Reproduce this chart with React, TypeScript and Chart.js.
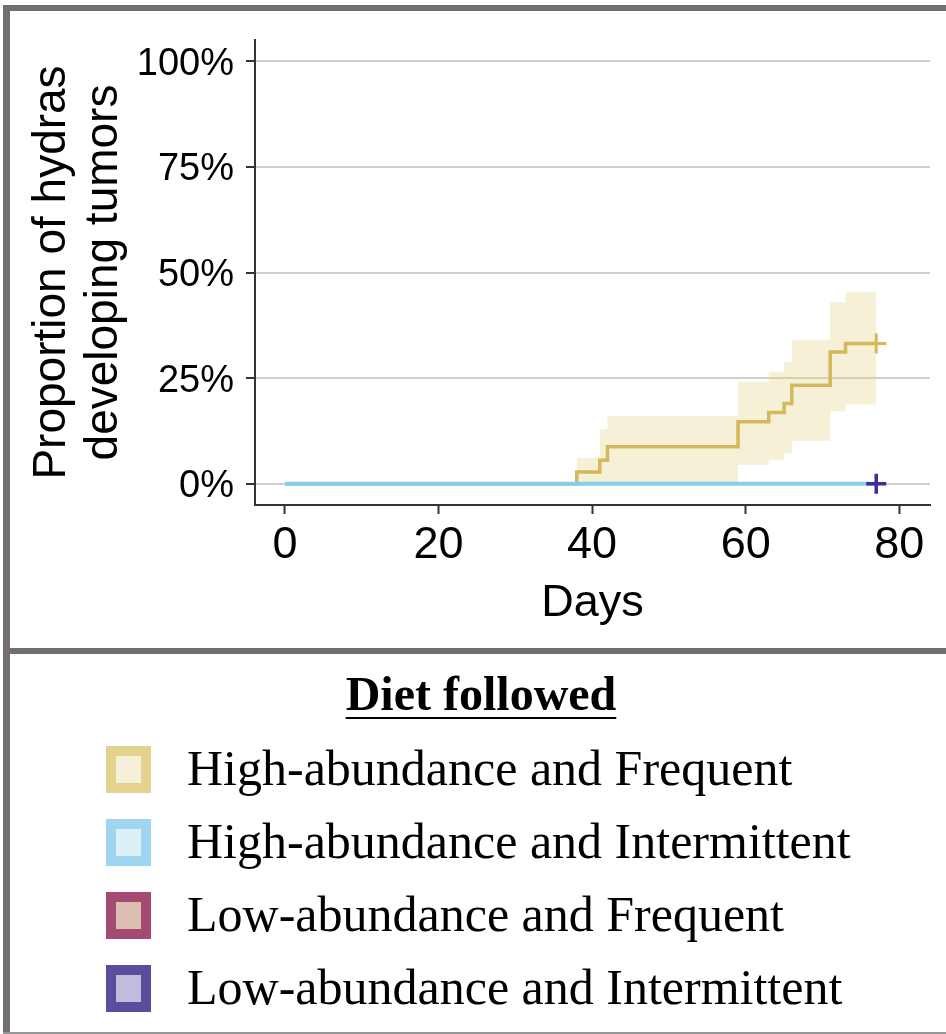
import React, { useEffect, useRef } from 'react';
import { Chart, registerables } from 'chart.js';

Chart.register(...registerables);

// ---- data ----
const seriesNames = [
  'High-abundance and Frequent',
  'High-abundance and Intermittent',
  'Low-abundance and Frequent',
  'Low-abundance and Intermittent',
];
const seriesLineColors = ['#D4B95A', '#88CCEE', '#A44B74', '#3B2F91'];
const legendBorderColors = ['#E3D38E', '#9FD5F0', '#A44B74', '#5C4C9D'];
const legendFillColors = ['#F6F0DA', '#DCF0F8', '#DCBFB0', '#C0BCDC'];

const hafDays = [0, 38, 41, 42, 59, 63, 65, 66, 71, 73, 77];
const hafEstimate = [0, 2.8, 5.6, 8.8, 14.7, 16.9, 19.0, 23.3, 31.2, 33.2, 33.2];
const hafBandDays = [38, 41, 42, 59, 63, 65, 66, 71, 73, 77];
const hafUpper = [6.2, 12.9, 16.1, 24.1, 26.5, 28.9, 34.0, 42.9, 45.3, 45.3];
const hafLower = [0, 0, 0, 4.5, 5.7, 7.2, 10.2, 17.2, 18.8, 18.8];

const haiDays = [0, 77];
const haiEstimate = [0, 0];

const hafCensorDays = [77];
const hafCensorValues = [33.2];
const laiCensorDays = [77];
const laiCensorValues = [0];

const xTicks = [0, 20, 40, 60, 80];
const yTicks = [0, 25, 50, 75, 100];
const xTitle = 'Days';
const yTitleLines = ['Proportion of hydras', 'developing tumors'];
const legendTitle = 'Diet followed';

const SANS = '"Liberation Sans", Arial, sans-serif';
const SERIF = '"Liberation Serif", "Times New Roman", serif';

const pts = (xs: number[], ys: number[]) => xs.map((x, i) => ({ x, y: ys[i] }));

const yTitlePlugin = {
  id: 'yTitleLeft',
  afterDraw(chart: any) {
    const ctx = chart.ctx;
    const area = chart.chartArea;
    ctx.save();
    ctx.fillStyle = '#000';
    ctx.font = `46px ${SANS}`;
    ctx.textAlign = 'center';
    ctx.textBaseline = 'middle';
    ctx.translate(52, (area.top + area.bottom) / 2);
    ctx.rotate(-Math.PI / 2);
    yTitleLines.forEach((line, i) => ctx.fillText(line, 0, i * 52));
    ctx.restore();
  },
};

export default function App() {
  const canvasRef = useRef<HTMLCanvasElement | null>(null);

  useEffect(() => {
    document.body.style.margin = '0';
    document.body.style.overflow = 'hidden';
    const canvas = canvasRef.current;
    if (!canvas) return;
    const chart = new Chart(canvas, {
      type: 'line',
      data: {
        datasets: [
          {
            label: seriesNames[3] + ' censor',
            data: pts(laiCensorDays, laiCensorValues),
            showLine: false,
            pointStyle: 'cross',
            pointRadius: 10,
            pointBorderWidth: 3.5,
            borderColor: seriesLineColors[3],
            backgroundColor: seriesLineColors[3],
            order: 1,
          },
          {
            label: seriesNames[0] + ' censor',
            data: pts(hafCensorDays, hafCensorValues),
            showLine: false,
            pointStyle: 'cross',
            pointRadius: 10,
            pointBorderWidth: 3,
            borderColor: seriesLineColors[0],
            backgroundColor: seriesLineColors[0],
            order: 2,
          },
          {
            label: seriesNames[1],
            data: pts(haiDays, haiEstimate),
            stepped: 'before',
            borderColor: seriesLineColors[1],
            borderWidth: 4,
            pointRadius: 0,
            fill: false,
            order: 3,
          },
          {
            label: seriesNames[0],
            data: pts(hafDays, hafEstimate),
            stepped: 'before',
            borderColor: seriesLineColors[0],
            borderWidth: 3.5,
            pointRadius: 0,
            fill: false,
            order: 4,
          },
          {
            label: seriesNames[0] + ' upper',
            data: pts(hafBandDays, hafUpper),
            stepped: 'before',
            borderWidth: 0,
            borderColor: 'rgba(0,0,0,0)',
            backgroundColor: 'rgba(221,204,119,0.3)',
            pointRadius: 0,
            fill: 5,
            order: 5,
          },
          {
            label: seriesNames[0] + ' lower',
            data: pts(hafBandDays, hafLower),
            stepped: 'before',
            borderWidth: 0,
            borderColor: 'rgba(0,0,0,0)',
            pointRadius: 0,
            fill: false,
            order: 6,
          },
        ],
      },
      options: {
        animation: false,
        responsive: false,
        maintainAspectRatio: false,
        layout: { padding: { left: 0, top: 40, right: 16, bottom: 0 } },
        plugins: {
          legend: { display: false },
          tooltip: { enabled: false },
          title: { display: false },
        },
        scales: {
          x: {
            type: 'linear',
            min: -3.9,
            max: 84,
            afterBuildTicks: (s: any) => {
              s.ticks = xTicks.map((v) => ({ value: v }));
            },
            afterFit: (s: any) => {
              s.height = 143;
            },
            grid: {
              drawOnChartArea: false,
              drawTicks: true,
              tickLength: 9,
              tickWidth: 2,
              tickColor: '#333333',
            },
            border: { display: true, color: '#333333', width: 2 },
            ticks: {
              color: '#000',
              padding: 5,
              font: { family: SANS, size: 45, lineHeight: 1.2 },
              maxRotation: 0,
            },
            title: {
              display: true,
              text: xTitle,
              color: '#000',
              font: { family: SANS, size: 45, lineHeight: 1.2 },
              padding: { top: 0, bottom: 17 },
            },
          },
          y: {
            type: 'linear',
            min: -5,
            max: 105,
            afterBuildTicks: (s: any) => {
              s.ticks = yTicks.map((v) => ({ value: v }));
            },
            afterFit: (s: any) => {
              s.width = 255;
            },
            grid: {
              color: '#D0D0D0',
              lineWidth: 2,
              drawTicks: true,
              tickLength: 9,
              tickWidth: 2,
              tickColor: '#333333',
            },
            border: { display: true, color: '#333333', width: 2 },
            ticks: {
              color: '#000',
              padding: 12,
              labelOffset: 3,
              font: { family: SANS, size: 38, lineHeight: 1.2 },
              callback: (v: any) => `${v}%`,
            },
            title: { display: false },
          },
        },
      },
      plugins: [yTitlePlugin],
    });
    return () => chart.destroy();
  }, []);

  const borderColor = '#736F6F';

  return (
    <div style={{ position: 'relative', width: 946, height: 1034, overflow: 'hidden', background: '#fff' }}>
      <canvas ref={canvasRef} width={946} height={648} style={{ position: 'absolute', left: 0, top: 0, width: 946, height: 648 }} />
      {/* frame */}
      <div style={{ position: 'absolute', left: 3, top: 5, width: 7, height: 1029, background: borderColor }} />
      <div style={{ position: 'absolute', left: 3, top: 5, width: 943, height: 6, background: borderColor }} />
      <div style={{ position: 'absolute', left: 3, top: 648, width: 943, height: 6, background: borderColor }} />
      <div style={{ position: 'absolute', left: 3, top: 1032, width: 943, height: 2, background: '#9a9696' }} />
      {/* legend */}
      <div
        style={{
          position: 'absolute',
          left: 0,
          width: 962,
          top: 670,
          textAlign: 'center',
          fontFamily: SERIF,
          fontWeight: 'bold',
          fontSize: 48,
          lineHeight: '48px',
          color: '#000',
          textDecoration: 'underline',
          textDecorationThickness: '2px',
          textUnderlineOffset: '7px',
          whiteSpace: 'nowrap',
        }}
      >
        {legendTitle}
      </div>
      {seriesNames.map((name, i) => {
        const baseline = 785 + i * 73;
        return (
          <React.Fragment key={name}>
            <div
              style={{
                position: 'absolute',
                left: 106,
                top: baseline - 39,
                width: 25,
                height: 27,
                border: `10px solid ${legendBorderColors[i]}`,
                background: legendFillColors[i],
              }}
            />
            <div
              style={{
                position: 'absolute',
                left: 187,
                top: baseline - 42,
                fontFamily: SERIF,
                fontSize: 50,
                lineHeight: '50px',
                color: '#000',
                whiteSpace: 'nowrap',
              }}
            >
              {name}
            </div>
          </React.Fragment>
        );
      })}
    </div>
  );
}
